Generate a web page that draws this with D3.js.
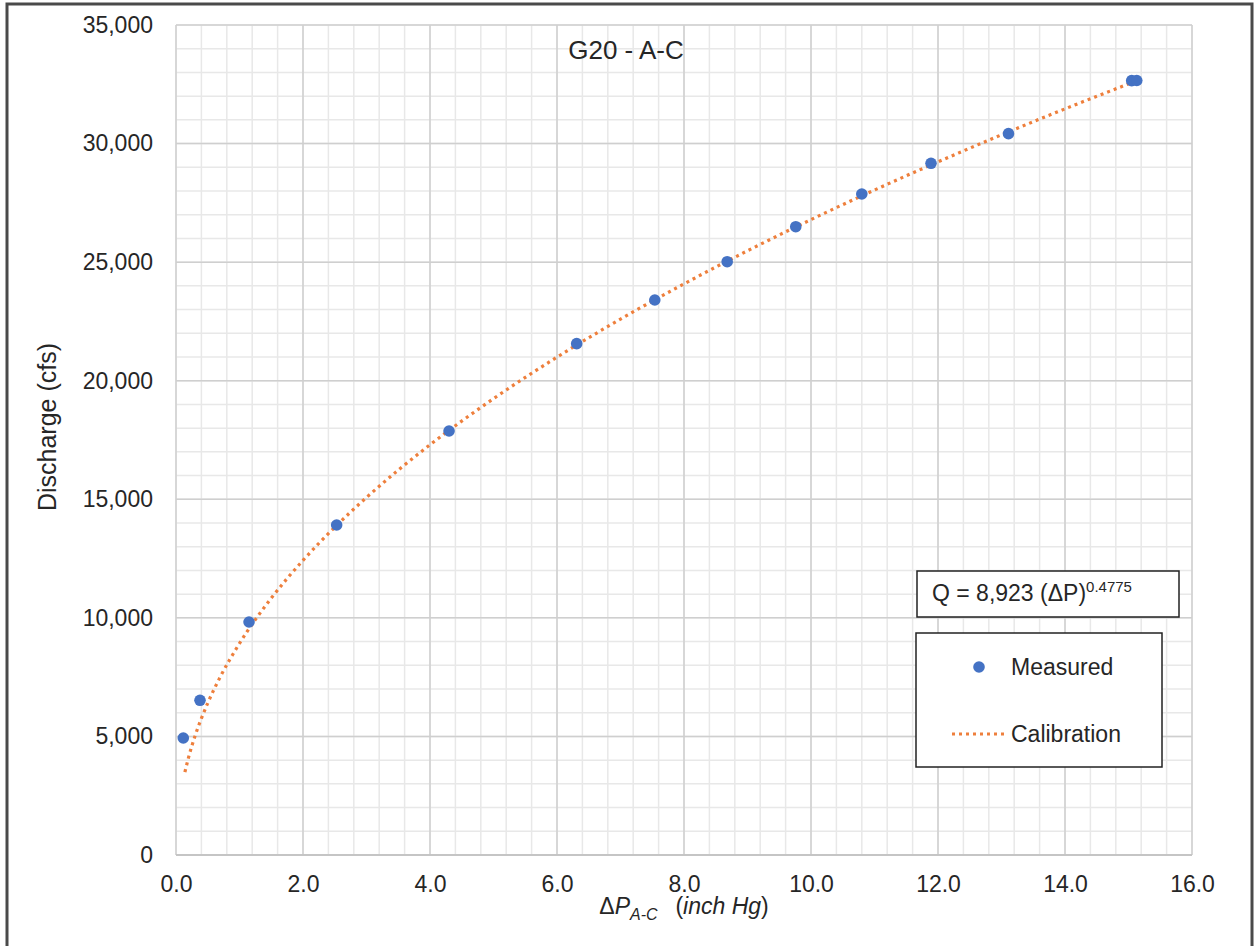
<!DOCTYPE html>
<html><head><meta charset="utf-8">
<script src="https://cdn.jsdelivr.net/npm/d3@7"></script>
<style>
body{margin:0;background:#fff;}
svg text{font-family:Arial,"Liberation Sans",sans-serif;fill:#262626;}
</style></head>
<body>
<svg id="chart" width="1257" height="946"></svg>
<script>
// Data
const measuredDP = [0.115, 0.378, 1.15, 2.53, 4.30, 6.31, 7.54, 8.68, 9.76, 10.80, 11.89, 13.11, 15.05, 15.13];
const measuredQ  = [4934, 6523, 9826, 13916, 17880, 21562, 23404, 25018, 26495, 27874, 29168, 30418, 32653, 32660];
const calibDP = [0.14, 0.2, 0.3, 0.4, 0.5, 0.7, 1.0, 1.5, 2.0, 2.5, 3, 4, 5, 6, 7, 8, 9, 10, 11, 12, 13, 14, 15.1];
const calibQ  = [3490, 4138, 5022, 5761, 6409, 7526, 8923, 10829, 12424, 13821, 15077, 17298, 19243, 20994, 22597, 24084, 25479, 26793, 28041, 29229, 30370, 31464, 32619];
const xTicks = [0, 2, 4, 6, 8, 10, 12, 14, 16];
const yTicks = [0, 5000, 10000, 15000, 20000, 25000, 30000, 35000];
const xMinor = d3.range(0, 16.0001, 0.4);
const yMinor = d3.range(0, 35001, 1000);
const title = "G20 - A-C";
const yLabel = "Discharge (cfs)";
const legendItems = ["Measured", "Calibration"];

const svg = d3.select("#chart");
const L = 176, R = 1192, T = 25, B = 855;
const x = d3.scaleLinear().domain([0, 16]).range([L, R]);
const y = d3.scaleLinear().domain([0, 35000]).range([B, T]);

// outer border
svg.append("rect").attr("x", 7).attr("y", 4).attr("width", 1245).attr("height", 950)
  .attr("fill", "none").attr("stroke", "#4a4a4a").attr("stroke-width", 3);

// minor gridlines
svg.append("g").selectAll("line").data(xMinor).join("line")
  .attr("x1", d => x(d)).attr("x2", d => x(d)).attr("y1", T).attr("y2", B)
  .attr("stroke", "#e8e8e8").attr("stroke-width", 1.5);
svg.append("g").selectAll("line").data(yMinor).join("line")
  .attr("x1", L).attr("x2", R).attr("y1", d => y(d)).attr("y2", d => y(d))
  .attr("stroke", "#e8e8e8").attr("stroke-width", 1.5);
// major gridlines
svg.append("g").selectAll("line").data(xTicks).join("line")
  .attr("x1", d => x(d)).attr("x2", d => x(d)).attr("y1", T).attr("y2", B)
  .attr("stroke", "#cfcfcf").attr("stroke-width", 1.5);
svg.append("g").selectAll("line").data(yTicks).join("line")
  .attr("x1", L).attr("x2", R).attr("y1", d => y(d)).attr("y2", d => y(d))
  .attr("stroke", "#cfcfcf").attr("stroke-width", 1.5);
// bottom axis line
svg.append("line").attr("x1", L).attr("x2", R).attr("y1", B).attr("y2", B)
  .attr("stroke", "#bfbfbf").attr("stroke-width", 1.5);

// axes via d3
const xAxis = svg.append("g").attr("transform", `translate(0,${B})`)
  .call(d3.axisBottom(x).tickValues(xTicks).tickFormat(d3.format(".1f")).tickSize(0).tickPadding(21));
xAxis.select(".domain").remove();
xAxis.selectAll("text").attr("font-size", 23).attr("fill", "#262626");

const yAxis = svg.append("g").attr("transform", `translate(${L},0)`)
  .call(d3.axisLeft(y).tickValues(yTicks).tickFormat(d3.format(",")).tickSize(0).tickPadding(23));
yAxis.select(".domain").remove();
yAxis.selectAll("text").attr("font-size", 23).attr("fill", "#262626");

// title
svg.append("text").attr("x", 626).attr("y", 59).attr("text-anchor", "middle")
  .attr("font-size", 26).text(title);

// y label
svg.append("text").attr("transform", "translate(56,427) rotate(-90)")
  .attr("text-anchor", "middle").attr("font-size", 25).text(yLabel);

// x label
const xl = svg.append("text").attr("x", 684).attr("y", 914).attr("text-anchor", "middle").attr("font-size", 23);
xl.append("tspan").text("\u0394");
xl.append("tspan").attr("font-style", "italic").text("P");
xl.append("tspan").attr("font-style", "italic").attr("font-size", 16).attr("dy", 6).text("A-C");
xl.append("tspan").attr("dy", -6).text("\u2002 (");
xl.append("tspan").attr("font-style", "italic").text("inch Hg");
xl.append("tspan").text(")");

// calibration line
const calib = calibDP.map((d, i) => [d, calibQ[i]]);
svg.append("path").datum(calib)
  .attr("d", d3.line().x(d => x(d[0])).y(d => y(d[1])).curve(d3.curveMonotoneX))
  .attr("fill", "none").attr("stroke", "#EE7F3C").attr("stroke-width", 3.2)
  .attr("stroke-dasharray", "3,4");

// measured points
const meas = measuredDP.map((d, i) => [d, measuredQ[i]]);
svg.append("g").selectAll("circle").data(meas).join("circle")
  .attr("cx", d => x(d[0])).attr("cy", d => y(d[1])).attr("r", 5.8)
  .attr("fill", "#4472C4");

// equation box
svg.append("rect").attr("x", 917).attr("y", 571).attr("width", 262).attr("height", 46)
  .attr("fill", "#fff").attr("stroke", "#222").attr("stroke-width", 1.5);
const eq = svg.append("text").attr("x", 932).attr("y", 601).attr("font-size", 23);
eq.append("tspan").text("Q = 8,923 (\u0394P)");
eq.append("tspan").attr("font-size", 15).attr("dy", -9).text("0.4775");

// legend box
svg.append("rect").attr("x", 916).attr("y", 633).attr("width", 246).attr("height", 134)
  .attr("fill", "#fff").attr("stroke", "#222").attr("stroke-width", 1.5);
svg.append("circle").attr("cx", 979).attr("cy", 667).attr("r", 5.8).attr("fill", "#4472C4");
svg.append("text").attr("x", 1011).attr("y", 675).attr("font-size", 23).text(legendItems[0]);
svg.append("line").attr("x1", 952).attr("x2", 1006).attr("y1", 734).attr("y2", 734)
  .attr("stroke", "#EE7F3C").attr("stroke-width", 3.2).attr("stroke-dasharray", "3,4");
svg.append("text").attr("x", 1011).attr("y", 742).attr("font-size", 23).text(legendItems[1]);
</script>
</body></html>
